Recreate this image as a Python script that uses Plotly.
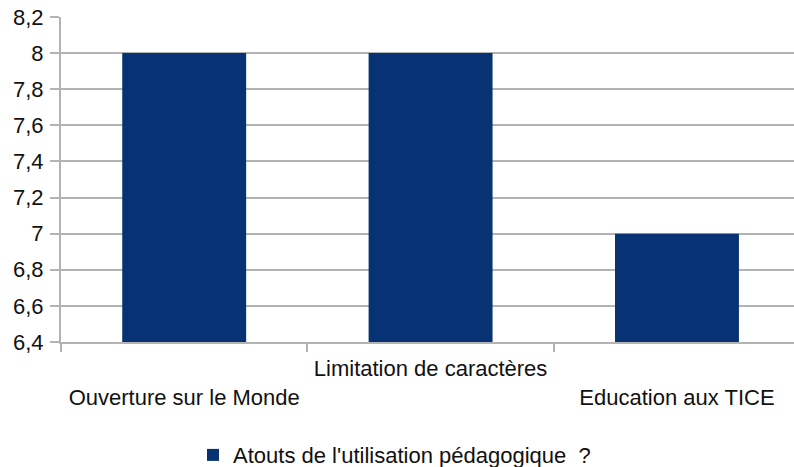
import plotly.graph_objects as go

categories = ["Ouverture sur le Monde", "Limitation de caractères", "Education aux TICE"]
tick_text = ["<br>Ouverture sur le Monde", "Limitation de caractères", "<br>Education aux TICE"]
values = [8, 8, 7]
series_name = "Atouts de l'utilisation pédagogique  ?"
y_ticks = [6.4, 6.6, 6.8, 7.0, 7.2, 7.4, 7.6, 7.8, 8.0, 8.2]

font_family = "Liberation Sans, Arial, sans-serif"
text_color = "#111111"

fig = go.Figure()
fig.add_trace(go.Bar(
    x=categories,
    y=values,
    name=series_name,
    marker=dict(color="#073374", line=dict(width=0)),
    showlegend=True,
))

fig.update_layout(
    width=794,
    height=467,
    margin=dict(l=61, r=0, t=17, b=125, autoexpand=False),
    paper_bgcolor="white",
    plot_bgcolor="white",
    separators=", ",
    bargap=0.497,
    font=dict(family=font_family, size=22, color=text_color),
    showlegend=True,
    legend=dict(
        orientation="h",
        x=0.455, xanchor="center",
        y=-0.348, yanchor="middle",
        font=dict(size=22, color=text_color),
        itemwidth=30,
    ),
)

fig.update_xaxes(
    type="category",
    range=[-0.5, 2.475],
    tickmode="array",
    tickvals=categories,
    ticktext=tick_text,
    ticks="outside",
    tickson="boundaries",
    ticklen=8,
    tickwidth=2,
    tickcolor="#b3b3b3",
    showline=True,
    linecolor="#b3b3b3",
    linewidth=2,
    showgrid=False,
    automargin=False,
    ticklabelstandoff=6,
    tickfont=dict(size=22, color=text_color),
)

fig.update_yaxes(
    range=[6.4, 8.2],
    tickmode="array",
    tickvals=y_ticks,
    ticks="outside",
    ticklen=9,
    tickwidth=2,
    tickcolor="#b3b3b3",
    showline=True,
    linecolor="#b3b3b3",
    linewidth=2,
    showgrid=True,
    gridcolor="#b3b3b3",
    gridwidth=2,
    zeroline=False,
    automargin=False,
    ticklabelstandoff=2,
    tickfont=dict(size=22, color=text_color),
)

fig.write_html(
    "out.html",
    config={"displayModeBar": False},
    post_script="document.body.style.margin='0';document.body.style.padding='0';document.body.style.overflow='hidden';",
)
